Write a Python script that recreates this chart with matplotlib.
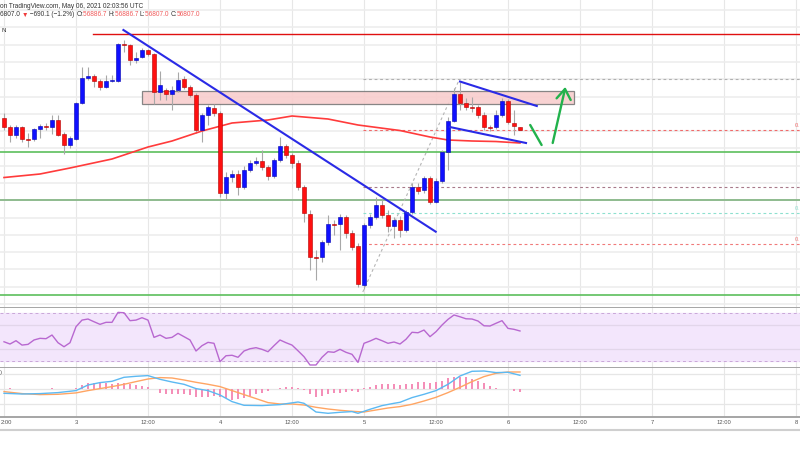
import numpy as np
import matplotlib
matplotlib.use("Agg")
import matplotlib.pyplot as plt
from matplotlib.lines import Line2D
from matplotlib.patches import Rectangle

# ---------- data: BTCUSD hourly candles, May 2 12:00 -> May 6 02:00 UTC ----------
opens = [57050, 56825, 56625, 56825, 56537, 56525, 56775, 56850, 56825, 57000,
         56650, 56375, 56525, 57425, 58050, 58100, 57975, 57825, 57975, 57975,
         58900, 58875, 58500, 58575, 58750, 58650, 57700, 57750, 57650, 57750,
         58025, 57825, 57625, 56750, 57125, 57300, 57175, 55175, 55575, 55650,
         55325, 55750, 55925, 55975, 55825, 55600, 56000, 56350, 56125, 55925,
         55325, 54650, 53575, 53575, 53950, 54400, 54400, 54575, 54175, 53850,
         52875, 54375, 54575, 54875, 54625, 54350, 54500, 54250, 54700, 55325,
         55250, 55550, 54950, 55475, 56200, 56975, 57650, 57425, 57325, 57325,
         57125, 56825, 56825, 57125, 57475, 56925, 56825]
highs = [57175, 56875, 56875, 56850, 56675, 56800, 56900, 56925, 57125, 57125,
         56700, 56600, 57450, 58325, 58325, 58150, 58025, 58125, 58125, 58925,
         59000, 58900, 58700, 58800, 58775, 58675, 58225, 57800, 57850, 58200,
         58100, 57875, 57675, 57175, 57375, 57400, 57225, 55700, 55750, 55750,
         55850, 56000, 56075, 56250, 55875, 56050, 56575, 56400, 56175, 56000,
         55375, 54750, 53750, 54000, 54625, 54500, 54650, 54625, 54250, 53925,
         54425, 54650, 55075, 55000, 54750, 54575, 54600, 54750, 55425, 55425,
         55600, 55600, 55550, 56250, 57075, 57800, 57950, 57550, 57575, 57375,
         57200, 56875, 57250, 57550, 57525, 57250, 56825]
lows = [56750, 56450, 56550, 56450, 56325, 56475, 56550, 56750, 56650, 56600,
        56150, 56300, 56500, 57400, 58000, 57825, 57750, 57800, 57950, 57950,
        58700, 58375, 58425, 58550, 58600, 57400, 57500, 57500, 57250, 57700,
        57775, 57575, 56675, 56450, 56875, 57100, 55075, 55000, 55450, 55125,
        55275, 55700, 55875, 55750, 55500, 55550, 55950, 56050, 55800, 55250,
        54450, 53250, 53000, 53450, 53875, 54125, 53750, 54050, 53750, 52825,
        52775, 54300, 54525, 54550, 54200, 54050, 54075, 54200, 54650, 55150,
        55175, 54900, 54925, 55425, 55750, 56950, 57250, 57250, 57200, 57050,
        56750, 56725, 56775, 57075, 56900, 56625, 56750]
closes = [56825, 56625, 56825, 56525, 56512, 56775, 56850, 56837, 57000, 56625,
          56375, 56550, 57425, 58050, 58100, 57975, 57825, 57975, 58000, 58900,
          58875, 58500, 58550, 58750, 58650, 57700, 57875, 57650, 57750, 58000,
          57825, 57625, 56750, 57125, 57325, 57175, 55175, 55575, 55650, 55325,
          55750, 55925, 55975, 55825, 55600, 56000, 56350, 56125, 55925, 55325,
          54675, 53575, 53550, 53950, 54400, 54375, 54575, 54175, 53825, 52900,
          54375, 54575, 54875, 54625, 54350, 54500, 54250, 54700, 55325, 55225,
          55550, 54950, 55475, 56200, 56975, 57650, 57425, 57325, 57312, 57125,
          56825, 56800, 57125, 57475, 56950, 56850, 56750]

# 100 hourly SMA (read at some candles)
ma_idx = [0, 6, 11, 18, 24, 28, 33, 38, 44, 48, 54, 59, 66, 71, 74, 78, 82, 86]
ma_val = [55562, 55650, 55800, 56025, 56325, 56475, 56725, 56925, 57000, 57100,
          57025, 56875, 56737, 56575, 56500, 56475, 56462, 56425]

rsi = [46.0, 44.1, 46.9, 43.2, 43.8, 47.5, 48.9, 48.6, 51.7, 45.2,
       41.8, 45.2, 58.7, 64.3, 65.2, 62.9, 60.7, 62.4, 62.4, 70.8,
       70.5, 63.8, 64.3, 66.3, 64.3, 49.7, 51.7, 48.9, 49.7, 53.1,
       50.3, 47.5, 38.2, 42.7, 45.5, 44.7, 29.2, 34.2, 34.6, 32.9,
       38.2, 40.1, 41.0, 39.6, 37.6, 42.7, 47.5, 45.2, 43.2, 38.4,
       33.4, 26.4, 26.4, 32.9, 37.6, 37.1, 39.6, 37.1, 35.4, 28.6,
       44.7, 46.6, 48.9, 46.9, 44.7, 45.8, 44.1, 48.1, 54.0, 53.6,
       55.9, 50.3, 54.5, 60.1, 64.9, 68.6, 67.1, 65.4, 65.2, 63.5,
       59.5, 59.3, 61.6, 63.8, 57.3, 56.5, 55.1]

hist = [5, 10, 5, 3, 3, 5, 5, 5, 15, 5,
        3, 3, 10, 43, 60, 67, 60, 60, 53, 60,
        67, 53, 43, 33, 20, 0, -33, -47, -50, -50,
        -50, -57, -73, -73, -73, -63, -80, -90, -107, -100,
        -90, -67, -47, -33, -20, 0, 17, 27, 20, 10,
        -7, -47, -73, -67, -50, -40, -33, -27, -17, -23,
        10, 20, 43, 53, 53, 53, 48, 53, 53, 70,
        70, 60, 70, 87, 110, 120, 127, 120, 103, 87,
        60, 33, 10, 3, 0, -13, -23]

macd_idx = [0, 3, 6, 9, 12, 14, 16, 18, 20, 22, 24, 26, 28, 30, 32, 34, 36, 38, 40, 43, 46,
            49, 50, 52, 54, 56, 58, 59, 61, 63, 65, 66, 68, 70, 72, 74, 76, 78, 80, 82, 84, 86]
macd_val = [-40, -47, -43, -33, -13, 43, 67, 80, 120, 130, 137, 100, 73, 50, 7, -13, -57, -123,
            -160, -163, -153, -127, -140, -227, -240, -230, -223, -240, -200, -163, -140, -130,
            -83, -50, -13, 50, 133, 180, 183, 167, 170, 140]
signal_idx = [0, 3, 6, 9, 12, 14, 16, 18, 20, 22, 24, 26, 28, 30, 32, 34, 36, 38, 40, 42, 44,
              46, 48, 50, 52, 54, 56, 58, 60, 62, 64, 66, 68, 70, 72, 74, 76, 78, 80, 82, 84, 86]
signal_val = [-23, -43, -53, -50, -36, -13, 7, 27, 50, 77, 103, 117, 113, 93, 70, 50, 27, -13,
              -53, -93, -133, -147, -147, -157, -180, -197, -210, -220, -227, -207, -187, -173,
              -150, -117, -80, -33, 20, 77, 127, 160, 173, 173]

time_ticks = list(range(0, 133, 12))
# the first label is cut by the left edge in the screenshot: only "2:00" shows
time_labels = ["", "3", "12:00", "4", "12:00", "5", "12:00", "6", "12:00", "7", "12:00", "8"]
first_time_label = "2:00"

# drawings (candle index, price)
trend_x, trend_y = [19.9, 71.95], [59250, 54208]
resist_start, resist_price = 14.8, 59150
zone_x, zone_y = [23, 95], [57400, 57725]
support_prices = [56200, 55000, 52625]
support_colors = ["#5cbf5c", "#7fb27f", "#5cbf5c"]
fib_start = 59.8
fib_prices = [58025, 56750, 55325, 54675, 53900]
fib_colors = ["#b0b0b0", "#f06a6a", "#a87a8a", "#8de0cf", "#f07a7a"]
fib_labeled = [False, True, False, True, True]
fib_diag_x, fib_diag_y = [59.8, 75.7], [52700, 57950]
chan_up_x, chan_up_y = [76, 88.8], [57962, 57350]
chan_lo_x, chan_lo_y = [74.3, 87], [56825, 56425]
dip_x, dip_y = [87.7, 89.6], [56875, 56375]
arrow_x, arrow_y = [91.45, 93.5], [56425, 57775]
head_x, head_y = [92.1, 93.5, 94.45], [57542, 57775, 57500]

FONT = ["Liberation Sans", "DejaVu Sans"]
W, H = 800, 450
XL = (-0.667, 132.667)

fig = plt.figure(figsize=(8, 4.5), dpi=100)
fig.patch.set_facecolor("white")


def pane(top, bottom):
    return fig.add_axes([0, (H - bottom) / H, 1, (bottom - top) / H])


ax = pane(0, 308)
ax_rsi = pane(308, 368.3)
ax_macd = pane(368.3, 416.7)

for a in (ax, ax_rsi, ax_macd):
    a.set_xlim(*XL)
    for s in a.spines.values():
        s.set_visible(False)
    a.spines["bottom"].set_visible(True)
    a.spines["bottom"].set_color("#a5a5a5")
    a.spines["bottom"].set_linewidth(1.4)
    a.set_yticks([])
    a.set_xticks(time_ticks)
    a.tick_params(length=0, labelbottom=False)
    a.set_axisbelow(True)
    for t in time_ticks:
        a.axvline(t, color="#e7e7e7", lw=0.8, zorder=0)

# ---------- main price pane ----------
ax.set_ylim(52300, 60000)
for p in 58450 + 432 * np.arange(-17, 5):
    ax.axhline(p, color="#ededed", lw=1.2, zorder=0)

idx = np.arange(len(opens))
o, h, l, c = map(np.array, (opens, highs, lows, closes))
up = c >= o
ax.vlines(idx, l, h, color="#a8a8a8", lw=0.8, zorder=2)
body_lo = np.minimum(o, c)
body_h = np.maximum(np.abs(c - o), 25)
ax.bar(idx[up], body_h[up], bottom=body_lo[up], width=0.78, color="#1010ff",
       edgecolor="#0000b0", lw=0.4, zorder=3)
ax.bar(idx[~up], body_h[~up], bottom=body_lo[~up], width=0.78, color="#ff1010",
       edgecolor="#b00000", lw=0.4, zorder=3)

ax.plot(ma_idx, ma_val, color="#ff3b3b", lw=1.2, zorder=2.5)

ax.plot([resist_start, XL[1]], [resist_price] * 2, color="#e01010", lw=1.0, zorder=4)
for p, col in zip(support_prices, support_colors):
    ax.axhline(p, color=col, lw=1.2, zorder=1.5)
ax.add_patch(Rectangle((zone_x[0], zone_y[0]), zone_x[1] - zone_x[0], zone_y[1] - zone_y[0],
                       facecolor="#f8cdcd", edgecolor="#7a7a7a", lw=0.9, alpha=0.9, zorder=1.8))
for p, col, lab in zip(fib_prices, fib_colors, fib_labeled):
    ax.plot([fib_start, XL[1]], [p, p], color=col, lw=0.8, ls=(0, (2.5, 2.5)), zorder=1.6)
    if lab:
        # only the start of the level label shows at the right edge
        ax.text(XL[1] - 0.1, p + 40, "0.", color=col, fontsize=4.2, family=FONT,
                va="bottom", ha="right")
ax.plot(fib_diag_x, fib_diag_y, color="#b5b5b5", lw=0.8, ls=(0, (2.5, 2.5)), zorder=1.6)

ax.plot(trend_x, trend_y, color="#2a2ae6", lw=1.5, zorder=4)
ax.plot(chan_up_x, chan_up_y, color="#2a2ae6", lw=1.5, zorder=4)
ax.plot(chan_lo_x, chan_lo_y, color="#2a2ae6", lw=1.5, zorder=4)
ax.plot(dip_x, dip_y, color="#22b24c", lw=1.7, zorder=4, solid_capstyle="round")
ax.plot(arrow_x, arrow_y, color="#22b24c", lw=1.7, zorder=4, solid_capstyle="round")
ax.plot(head_x, head_y, color="#22b24c", lw=1.7, zorder=4, solid_capstyle="round",
        solid_joinstyle="round")

# ---------- RSI pane ----------
ax_rsi.set_ylim(23.6, 74.5)
ax_rsi.axhspan(30, 70, color="#f3e6fc", zorder=0)
for v in (60, 40):
    ax_rsi.axhline(v, color="#e2d6ea", lw=0.9, zorder=0.5)
for v in (70, 30):
    ax_rsi.axhline(v, color="#c9a7d8", lw=0.7, ls=(0, (3, 3)), zorder=1)
ax_rsi.plot(idx, rsi, color="#b868d0", lw=1.0, zorder=3)

# ---------- MACD pane ----------
ax_macd.set_ylim(-274, 210)
for v in (150, 0, -150):
    ax_macd.axhline(v, color="#e6e6e6", lw=0.9, zorder=0)
ax_macd.bar(idx, hist, width=0.35, color="#f48fb8", zorder=2)
ax_macd.plot(signal_idx, signal_val, color="#ffa563", lw=1.0, zorder=3)
ax_macd.plot(macd_idx, macd_val, color="#5cb9f2", lw=1.0, zorder=3.5)
ax_macd.tick_params(labelbottom=True, pad=2.2, labelsize=4.2, labelcolor="#555555")
ax_macd.set_xticklabels(time_labels, family=FONT)
ax_macd.text(-0.6, 170, ")", fontsize=4.2, family=FONT, color="#555555",
             ha="left", va="center")
fig.text(0.3 / W, 1 - 422.5 / H, first_time_label, fontsize=4.2, family=FONT,
         color="#555555", ha="left", va="center")

fig.add_artist(Line2D([0, 1], [(H - 430) / H] * 2, color="#cfcfcf", lw=1.5))

# ---------- header legend ----------
r = fig.canvas.get_renderer()


def run(x, y, pieces, size=4.7):
    for s, col in pieces:
        t = fig.text(x / W, 1 - y / H, s, color=col, fontsize=size, family=FONT,
                     ha="left", va="center")
        x += t.get_window_extent(renderer=r).width


run(0.3, 6, [("on TradingView.com, May 06, 2021 02:03:56 UTC", "#333333")])
run(0.3, 15, [("6807.0 ", "#333333"), ("\u25bc", "#f03c3c"),
              (" \u2212690.1 (\u22121.2%) ", "#333333"),
              ("O:", "#333333"), ("56886.7 ", "#f05a5a"),
              ("H:", "#333333"), ("56886.7 ", "#f05a5a"),
              ("L:", "#333333"), ("56807.0 ", "#f05a5a"),
              ("C:", "#333333"), ("56807.0", "#f05a5a")])
fig.text(1 / W, 1 - 30 / H, "N", fontsize=4.5, family=FONT, color="#333333", va="center")

fig.savefig("out.png", dpi=100)
